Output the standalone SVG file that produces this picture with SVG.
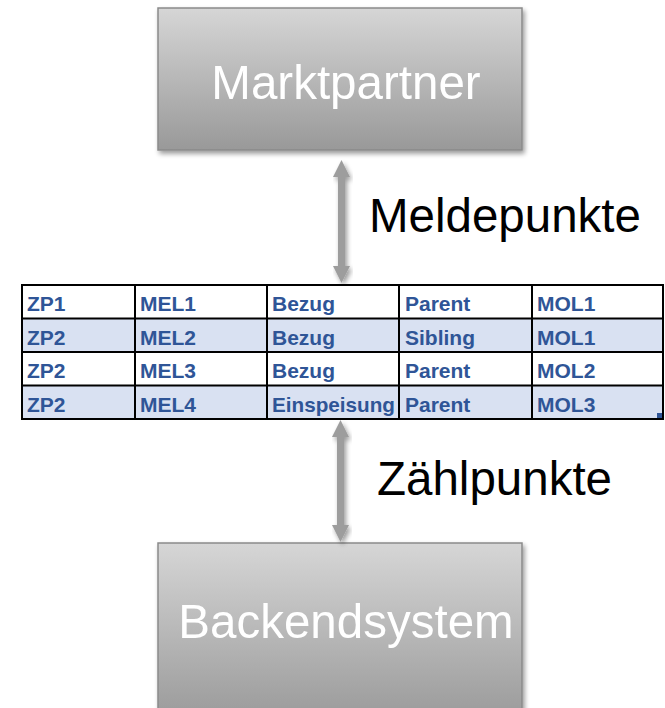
<svg xmlns="http://www.w3.org/2000/svg" width="665" height="708" viewBox="0 0 665 708">
<defs>
<linearGradient id="boxGrad" x1="0" y1="0" x2="0" y2="1">
<stop offset="0" stop-color="#d6d6d6"/>
<stop offset="1" stop-color="#999999"/>
</linearGradient>
<filter id="shadow" x="-10%" y="-10%" width="125%" height="130%">
<feGaussianBlur in="SourceAlpha" stdDeviation="2.5"/>
<feOffset dx="2" dy="3" result="b"/>
<feComponentTransfer><feFuncA type="linear" slope="0.4"/></feComponentTransfer>
<feMerge><feMergeNode/><feMergeNode in="SourceGraphic"/></feMerge>
</filter>
<style>
.box{fill:url(#boxGrad);stroke:#8a8a8a;stroke-width:1.5}
.boxtxt{font-family:"Liberation Sans",Arial,sans-serif;font-size:47.5px;fill:#ffffff}
.lbl{font-family:"Liberation Sans",Arial,sans-serif;font-size:47.5px;fill:#000000}
.arrow{fill:#9d9d9d}
.cell{font-family:"Liberation Sans",Arial,sans-serif;font-size:21px;font-weight:bold;fill:#2f5597}
.alt{fill:#d9e1f2}
.grid{stroke:#000000;stroke-width:2;fill:none}
</style>
</defs>
<g id="marktpartner" filter="url(#shadow)">
<rect class="box" x="158" y="8" width="364" height="142"/>
<text class="boxtxt" x="346" y="99" text-anchor="middle">Marktpartner</text>
</g>
<g id="backendsystem" filter="url(#shadow)">
<rect class="box" x="158" y="543" width="364" height="180"/>
<text class="boxtxt" x="346" y="638" text-anchor="middle">Backendsystem</text>
</g>
<g id="connectors">
<path class="arrow" filter="url(#shadow)" d="M341.5,160 L350,177 L345,177 L345,266 L350,266 L341.5,283 L333,266 L338,266 L338,177 L333,177 Z"/>
<path class="arrow" filter="url(#shadow)" d="M340.5,420 L349,437 L344,437 L344,525 L349,525 L340.5,542 L332,525 L337,525 L337,437 L332,437 Z"/>
</g>
<g id="label-meldepunkte"><text class="lbl" x="369" y="232">Meldepunkte</text></g>
<g id="label-zaehlpunkte"><text class="lbl" x="377" y="495">Zählpunkte</text></g>
<g id="table">
<rect x="22" y="285" width="641" height="33.5" fill="#ffffff"/>
<rect class="alt" x="22" y="318.5" width="641" height="33.5"/>
<rect x="22" y="352" width="641" height="33.5" fill="#ffffff"/>
<rect class="alt" x="22" y="385.5" width="641" height="33.5"/>
<rect class="grid" x="22" y="285" width="641" height="134"/>
<path class="grid" d="M22,318.5 H663 M22,352 H663 M22,385.5 H663 M135,285 V419 M267,285 V419 M399,285 V419 M532,285 V419"/>
<rect x="657" y="413" width="5" height="5" fill="#2f5597"/>
<text class="cell" x="27" y="311">ZP1</text>
<text class="cell" x="140" y="311">MEL1</text>
<text class="cell" x="272" y="311">Bezug</text>
<text class="cell" x="405" y="311">Parent</text>
<text class="cell" x="537" y="311">MOL1</text>
<text class="cell" x="27" y="344.5">ZP2</text>
<text class="cell" x="140" y="344.5">MEL2</text>
<text class="cell" x="272" y="344.5">Bezug</text>
<text class="cell" x="405" y="344.5">Sibling</text>
<text class="cell" x="537" y="344.5">MOL1</text>
<text class="cell" x="27" y="378">ZP2</text>
<text class="cell" x="140" y="378">MEL3</text>
<text class="cell" x="272" y="378">Bezug</text>
<text class="cell" x="405" y="378">Parent</text>
<text class="cell" x="537" y="378">MOL2</text>
<text class="cell" x="27" y="411.5">ZP2</text>
<text class="cell" x="140" y="411.5">MEL4</text>
<text class="cell" x="272" y="411.5" textLength="123" lengthAdjust="spacingAndGlyphs">Einspeisung</text>
<text class="cell" x="405" y="411.5">Parent</text>
<text class="cell" x="537" y="411.5">MOL3</text>
</g>
</svg>
